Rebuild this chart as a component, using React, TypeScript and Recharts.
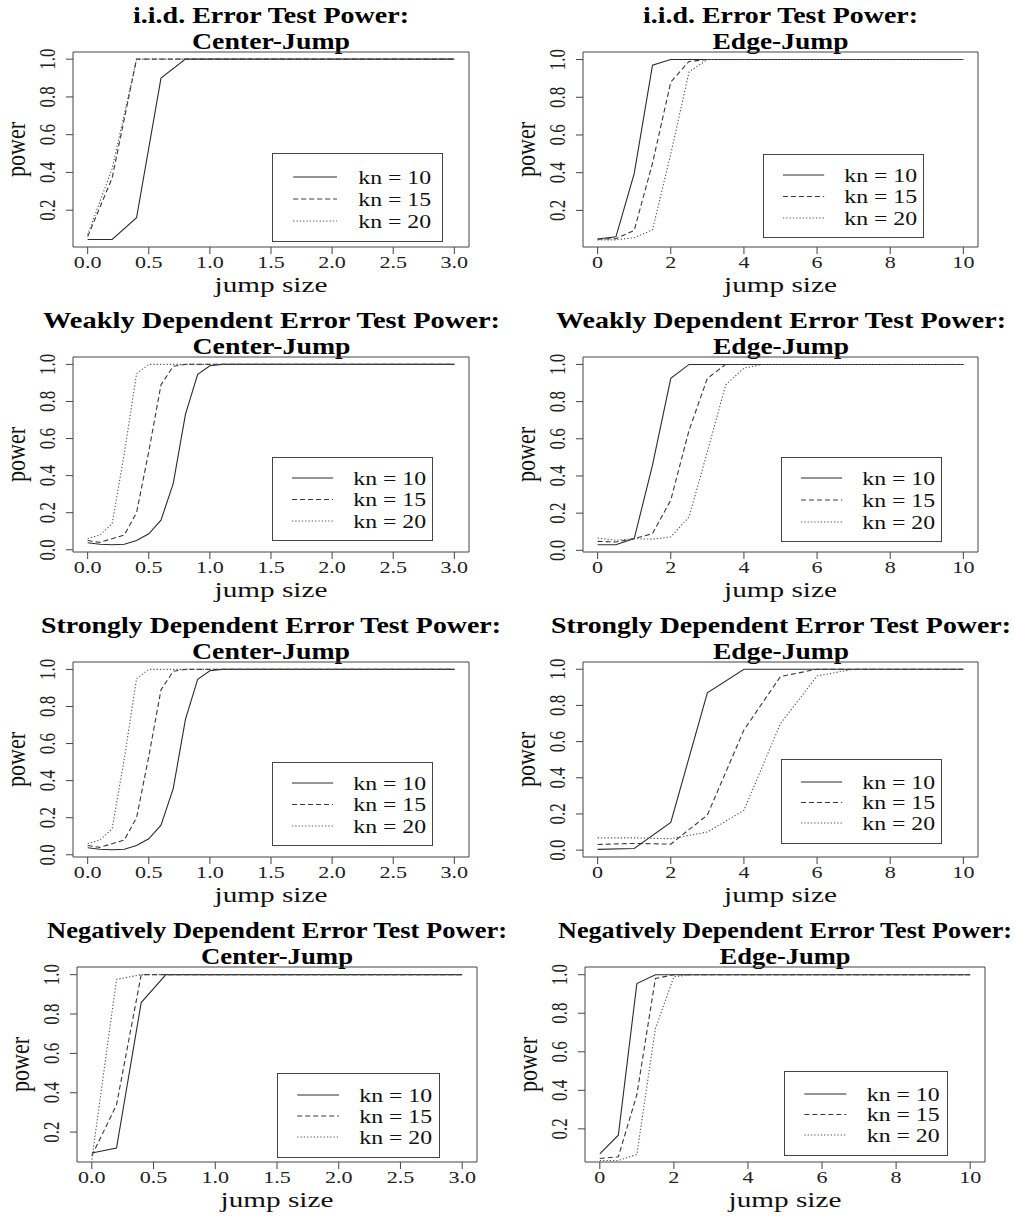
import React from "react";
import { LineChart, Line, XAxis, YAxis, ReferenceArea, Legend, Label } from "recharts";

// jump sizes used by the different simulation designs
const jumpCoarse = [0, 0.2, 0.4, 0.6, 0.8, 1, 1.2, 1.4, 1.6, 1.8, 2, 2.2, 2.4, 2.6, 2.8, 3];
const jumpFine = [
  0, 0.1, 0.2, 0.3, 0.4, 0.5, 0.6, 0.7, 0.8, 0.9, 1, 1.1, 1.2, 1.3, 1.4, 1.5,
  1.6, 1.7, 1.8, 1.9, 2, 2.1, 2.2, 2.3, 2.4, 2.5, 2.6, 2.7, 2.8, 2.9, 3,
];
const jumpHalf = [0, 0.5, 1, 1.5, 2, 2.5, 3, 3.5, 4, 4.5, 5, 5.5, 6, 6.5, 7, 7.5, 8, 8.5, 9, 9.5, 10];
const jumpUnit = [0, 1, 2, 3, 4, 5, 6, 7, 8, 9, 10];

const centerTicks = [0, 0.5, 1, 1.5, 2, 2.5, 3];
const edgeTicks = [0, 2, 4, 6, 8, 10];
const powerTicksFull = [0, 0.2, 0.4, 0.6, 0.8, 1];
const powerTicksPart = [0.2, 0.4, 0.6, 0.8, 1];
const legendLabels = ["kn = 10", "kn = 15", "kn = 20"];

// i.i.d. errors
const iidCenter10 = [0.045, 0.045, 0.16, 0.9, 1, 1, 1, 1, 1, 1, 1, 1, 1, 1, 1, 1];
const iidCenter15 = [0.06, 0.37, 1, 1, 1, 1, 1, 1, 1, 1, 1, 1, 1, 1, 1, 1];
const iidCenter20 = [0.07, 0.42, 1, 1, 1, 1, 1, 1, 1, 1, 1, 1, 1, 1, 1, 1];
const iidEdge10 = [0.048, 0.06, 0.395, 0.97, 1, 1, 1, 1, 1, 1, 1, 1, 1, 1, 1, 1, 1, 1, 1, 1, 1];
const iidEdge15 = [0.048, 0.05, 0.094, 0.45, 0.88, 0.99, 1, 1, 1, 1, 1, 1, 1, 1, 1, 1, 1, 1, 1, 1, 1];
const iidEdge20 = [0.044, 0.044, 0.055, 0.097, 0.5, 0.935, 1, 1, 1, 1, 1, 1, 1, 1, 1, 1, 1, 1, 1, 1, 1];

// weakly dependent errors
const wdCenter10 = [
  0.038, 0.03, 0.027, 0.03, 0.05, 0.086, 0.16, 0.357, 0.73, 0.946, 0.993, 1, 1, 1, 1, 1,
  1, 1, 1, 1, 1, 1, 1, 1, 1, 1, 1, 1, 1, 1, 1,
];
const wdCenter15 = [
  0.05, 0.04, 0.06, 0.08, 0.2, 0.53, 0.89, 0.99, 1, 1, 1, 1, 1, 1, 1, 1,
  1, 1, 1, 1, 1, 1, 1, 1, 1, 1, 1, 1, 1, 1, 1,
];
const wdCenter20 = [
  0.06, 0.08, 0.14, 0.52, 0.95, 1, 1, 1, 1, 1, 1, 1, 1, 1, 1, 1,
  1, 1, 1, 1, 1, 1, 1, 1, 1, 1, 1, 1, 1, 1, 1,
];
const wdEdge10 = [0.03, 0.03, 0.063, 0.458, 0.925, 1, 1, 1, 1, 1, 1, 1, 1, 1, 1, 1, 1, 1, 1, 1, 1];
const wdEdge15 = [0.048, 0.045, 0.063, 0.09, 0.27, 0.646, 0.925, 1, 1, 1, 1, 1, 1, 1, 1, 1, 1, 1, 1, 1, 1];
const wdEdge20 = [0.066, 0.054, 0.063, 0.06, 0.072, 0.18, 0.53, 0.89, 0.98, 1, 1, 1, 1, 1, 1, 1, 1, 1, 1, 1, 1];

// strongly dependent errors
const sdCenter10 = [
  0.038, 0.03, 0.027, 0.03, 0.05, 0.086, 0.16, 0.357, 0.73, 0.946, 0.993, 1, 1, 1, 1, 1,
  1, 1, 1, 1, 1, 1, 1, 1, 1, 1, 1, 1, 1, 1, 1,
];
const sdCenter15 = [
  0.05, 0.04, 0.06, 0.08, 0.2, 0.53, 0.89, 0.99, 1, 1, 1, 1, 1, 1, 1, 1,
  1, 1, 1, 1, 1, 1, 1, 1, 1, 1, 1, 1, 1, 1, 1,
];
const sdCenter20 = [
  0.06, 0.08, 0.14, 0.52, 0.95, 1, 1, 1, 1, 1, 1, 1, 1, 1, 1, 1,
  1, 1, 1, 1, 1, 1, 1, 1, 1, 1, 1, 1, 1, 1, 1,
];
const sdEdge10 = [0.004, 0.009, 0.153, 0.87, 1, 1, 1, 1, 1, 1, 1];
const sdEdge15 = [0.031, 0.037, 0.033, 0.194, 0.664, 0.96, 1, 1, 1, 1, 1];
const sdEdge20 = [0.068, 0.068, 0.063, 0.1, 0.22, 0.7, 0.963, 1, 1, 1, 1];

// negatively dependent errors
const ndCenter10 = [0.094, 0.119, 0.858, 1, 1, 1, 1, 1, 1, 1, 1, 1, 1, 1, 1, 1];
const ndCenter15 = [0.08, 0.338, 1, 1, 1, 1, 1, 1, 1, 1, 1, 1, 1, 1, 1, 1];
const ndCenter20 = [0.06, 0.976, 1, 1, 1, 1, 1, 1, 1, 1, 1, 1, 1, 1, 1, 1];
const ndEdge10 = [0.07, 0.167, 0.954, 1, 1, 1, 1, 1, 1, 1, 1, 1, 1, 1, 1, 1, 1, 1, 1, 1, 1];
const ndEdge15 = [0.046, 0.055, 0.377, 0.98, 1, 1, 1, 1, 1, 1, 1, 1, 1, 1, 1, 1, 1, 1, 1, 1, 1];
const ndEdge20 = [0.036, 0.036, 0.067, 0.72, 0.99, 1, 1, 1, 1, 1, 1, 1, 1, 1, 1, 1, 1, 1, 1, 1, 1];

const SERIF = '"Liberation Serif", "Times New Roman", serif';
const YW = 73;
const TM = 55;
const RM = 20;
const XH = 60;

const seriesStyle = [
  { key: "kn10", dash: undefined, color: "#2b2b2b" },
  { key: "kn15", dash: "5 3", color: "#383838" },
  { key: "kn20", dash: "1.3 2", color: "#555" },
];

const panels = [
  {
    title: ["i.i.d. Error Test Power:", "Center-Jump"], titleW: [276, 158],
    jump: jumpCoarse, s: [iidCenter10, iidCenter15, iidCenter20],
    xTicks: centerTicks, yTicks: powerTicksPart, dec: 1,
    xDomain: [-0.12, 3.12], yDomain: [0.005, 1.038],
    box: { l: 73, t: 52, r: 469, b: 247 },
    legend: { x: 199, y: 101, w: 171, h: 89, r0: 24, gap: 22 },
  },
  {
    title: ["i.i.d. Error Test Power:", "Edge-Jump"], titleW: [275, 136],
    jump: jumpHalf, s: [iidEdge10, iidEdge15, iidEdge20],
    xTicks: edgeTicks, yTicks: powerTicksPart, dec: 0,
    xDomain: [-0.4, 10.4], yDomain: [0.006, 1.04],
    box: { l: 583, t: 52, r: 978, b: 247 },
    legend: { x: 180, y: 102, w: 161, h: 84, r0: 21, gap: 21.5 },
  },
  {
    title: ["Weakly Dependent Error Test Power:", "Center-Jump"], titleW: [457, 158],
    jump: jumpFine, s: [wdCenter10, wdCenter15, wdCenter20],
    xTicks: centerTicks, yTicks: powerTicksFull, dec: 1,
    xDomain: [-0.12, 3.12], yDomain: [-0.012, 1.04],
    box: { l: 73, t: 357, r: 469, b: 552 },
    legend: { x: 199, y: 100, w: 161, h: 84, r0: 21, gap: 21.5 },
  },
  {
    title: ["Weakly Dependent Error Test Power:", "Edge-Jump"], titleW: [450, 136],
    jump: jumpHalf, s: [wdEdge10, wdEdge15, wdEdge20],
    xTicks: edgeTicks, yTicks: powerTicksFull, dec: 0,
    xDomain: [-0.4, 10.4], yDomain: [-0.009, 1.04],
    box: { l: 583, t: 357, r: 978, b: 552 },
    legend: { x: 198, y: 100, w: 161, h: 85, r0: 21, gap: 22 },
  },
  {
    title: ["Strongly Dependent Error Test Power:", "Center-Jump"], titleW: [460, 158],
    jump: jumpFine, s: [sdCenter10, sdCenter15, sdCenter20],
    xTicks: centerTicks, yTicks: powerTicksFull, dec: 1,
    xDomain: [-0.12, 3.12], yDomain: [-0.012, 1.04],
    box: { l: 73, t: 662, r: 469, b: 857 },
    legend: { x: 199, y: 100, w: 161, h: 84, r0: 21, gap: 21.5 },
  },
  {
    title: ["Strongly Dependent Error Test Power:", "Edge-Jump"], titleW: [460, 136],
    jump: jumpUnit, s: [sdEdge10, sdEdge15, sdEdge20],
    xTicks: edgeTicks, yTicks: powerTicksFull, dec: 0,
    xDomain: [-0.4, 10.4], yDomain: [-0.038, 1.04],
    box: { l: 583, t: 662, r: 978, b: 857 },
    legend: { x: 198, y: 97, w: 161, h: 85, r0: 23, gap: 20.5 },
  },
  {
    title: ["Negatively Dependent Error Test Power:", "Center-Jump"], titleW: [460, 152],
    jump: jumpCoarse, s: [ndCenter10, ndCenter15, ndCenter20],
    xTicks: centerTicks, yTicks: powerTicksPart, dec: 1,
    xDomain: [-0.12, 3.12], yDomain: [0.048, 1.039],
    box: { l: 77, t: 967, r: 477, b: 1162 },
    legend: { x: 200, y: 106, w: 163, h: 85, r0: 22, gap: 21 },
  },
  {
    title: ["Negatively Dependent Error Test Power:", "Edge-Jump"], titleW: [454, 131],
    jump: jumpHalf, s: [ndEdge10, ndEdge15, ndEdge20],
    xTicks: edgeTicks, yTicks: powerTicksPart, dec: 0,
    xDomain: [-0.4, 10.4], yDomain: [0.028, 1.04],
    box: { l: 585, t: 967, r: 985, b: 1162 },
    legend: { x: 199, y: 104, w: 164, h: 85, r0: 23, gap: 20.5 },
  },
];

function XTick(props: any) {
  const { x, y, payload, dec } = props;
  return (
    <g transform={`translate(${x},${y + 14}) scale(1.3,1)`}>
      <text textAnchor="middle" fontFamily={SERIF} fontSize={17} fill="#222">
        {Number(payload.value).toFixed(dec)}
      </text>
    </g>
  );
}

function YTick(props: any) {
  const { x, y, payload } = props;
  return (
    <g transform={`translate(${x - 11},${y}) scale(1.3,1) rotate(-90)`}>
      <text textAnchor="middle" fontFamily={SERIF} fontSize={17} fill="#222">
        {Number(payload.value).toFixed(1)}
      </text>
    </g>
  );
}

function LegendBox({ lg }: any) {
  return (
    <svg width={lg.w} height={lg.h} style={{ display: "block" }}>
      <rect x={0.5} y={0.5} width={lg.w - 1} height={lg.h - 1} fill="#fff" stroke="#444" />
      {legendLabels.map((lab, i) => {
        const cy = lg.r0 + i * lg.gap;
        const st = seriesStyle[i];
        return (
          <g key={lab}>
            <line x1={lg.w * 0.124} x2={lg.w * 0.38} y1={cy} y2={cy} stroke={st.color} strokeDasharray={st.dash} />
            <g transform={`translate(${lg.w * 0.505},${cy + 6.5}) scale(1.25,1)`}>
              <text fontFamily={SERIF} fontSize={19} fill="#111">{lab}</text>
            </g>
          </g>
        );
      })}
    </svg>
  );
}

function Title({ p }: any) {
  const w = p.titleW[0] + 8;
  const cx = (p.box.l + p.box.r) / 2;
  return (
    <svg
      width={w}
      height={56}
      style={{ position: "absolute", left: cx - w / 2, top: p.box.t - 52, overflow: "visible" }}
    >
      {p.title.map((line: string, i: number) => (
        <text
          key={line}
          x={w / 2}
          y={23 + i * 26}
          textAnchor="middle"
          textLength={p.titleW[i]}
          lengthAdjust="spacingAndGlyphs"
          fontFamily={SERIF}
          fontWeight="bold"
          fontSize={23}
          fill="#000"
        >
          {line}
        </text>
      ))}
    </svg>
  );
}

function Panel({ p }: any) {
  const boxW = p.box.r - p.box.l;
  const boxH = p.box.b - p.box.t;
  const data = p.jump.map((x: number, i: number) => ({
    x,
    kn10: p.s[0][i],
    kn15: p.s[1][i],
    kn20: p.s[2][i],
  }));
  return (
    <>
      <Title p={p} />
      <div style={{ position: "absolute", left: p.box.l - YW, top: p.box.t - TM }}>
        <LineChart
          width={YW + boxW + RM}
          height={TM + boxH + XH}
          data={data}
          margin={{ top: TM, right: RM, bottom: 0, left: 0 }}
        >
          <XAxis
            type="number"
            dataKey="x"
            domain={p.xDomain}
            ticks={p.xTicks}
            interval={0}
            allowDataOverflow
            axisLine={false}
            tickLine={{ stroke: "#444" }}
            tickSize={7}
            tickMargin={0}
            height={XH}
            tick={(tp: any) => <XTick {...tp} dec={p.dec} />}
          >
            <Label
              content={() => (
                <g transform={`translate(${YW + boxW / 2},${TM + boxH + 45}) scale(1.33,1)`}>
                  <text textAnchor="middle" fontFamily={SERIF} fontSize={22} fill="#111">jump size</text>
                </g>
              )}
            />
          </XAxis>
          <YAxis
            type="number"
            domain={p.yDomain}
            ticks={p.yTicks}
            interval={0}
            allowDataOverflow
            axisLine={false}
            tickLine={{ stroke: "#444" }}
            tickSize={7}
            tickMargin={0}
            width={YW}
            tick={(tp: any) => <YTick {...tp} />}
          >
            <Label
              content={() => (
                <g transform={`translate(${YW - 48},${TM + boxH / 2}) scale(1.2,1) rotate(-90)`}>
                  <text textAnchor="middle" fontFamily={SERIF} fontSize={22} fill="#111">power</text>
                </g>
              )}
            />
          </YAxis>
          <ReferenceArea
            x1={p.xDomain[0]}
            x2={p.xDomain[1]}
            y1={p.yDomain[0]}
            y2={p.yDomain[1]}
            fill="none"
            fillOpacity={0}
            stroke="#444"
            ifOverflow="visible"
          />
          {seriesStyle.map((st) => (
            <Line
              key={st.key}
              type="linear"
              dataKey={st.key}
              stroke={st.color}
              strokeWidth={1.1}
              strokeDasharray={st.dash}
              dot={false}
              activeDot={false}
              isAnimationActive={false}
            />
          ))}
          <Legend
            layout="horizontal"
            verticalAlign="middle"
            align="center"
            wrapperStyle={{
              left: YW + p.legend.x,
              top: TM + p.legend.y,
              width: p.legend.w,
              height: p.legend.h,
            }}
            content={() => <LegendBox lg={p.legend} />}
          />
        </LineChart>
      </div>
    </>
  );
}

export default function App() {
  return (
    <div
      style={{
        position: "absolute",
        left: 0,
        top: 0,
        width: 1015,
        height: 1216,
        background: "#fff",
        overflow: "hidden",
      }}
    >
      {panels.map((p, i) => (
        <Panel key={i} p={p} />
      ))}
    </div>
  );
}
